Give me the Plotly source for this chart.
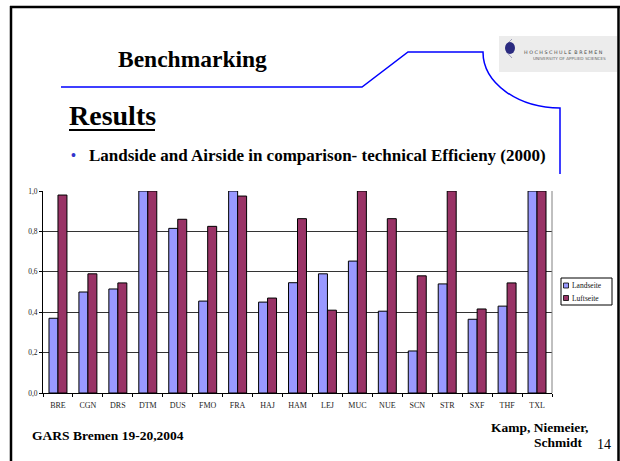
import plotly.graph_objects as go

categories = ["BRE", "CGN", "DRS", "DTM", "DUS", "FMO", "FRA", "HAJ", "HAM",
              "LEJ", "MUC", "NUE", "SCN", "STR", "SXF", "THF", "TXL"]
landseite = [0.37, 0.50, 0.515, 1.0, 0.815, 0.455, 1.0, 0.45, 0.546,
             0.59, 0.653, 0.405, 0.208, 0.54, 0.365, 0.43, 1.0]
luftseite = [0.98, 0.59, 0.545, 1.0, 0.86, 0.825, 0.975, 0.47, 0.863,
             0.41, 1.0, 0.863, 0.58, 1.0, 0.416, 0.545, 1.0]
series_names = ["Landseite", "Luftseite"]
series_colors = ["#9999FF", "#993366"]
y_ticks = [0.0, 0.2, 0.4, 0.6, 0.8, 1.0]

W_FIG, H_FIG = 620, 461
PL, PR, PT, PB = 43, 552, 191, 393
PW, PH = PR - PL, PB - PT


def px(x):
    return (x - PL) / PW


def py(y):
    return (PB - y) / PH


SERIF = "Liberation Serif"

fig = go.Figure()
for name, vals, col in zip(series_names, [landseite, luftseite], series_colors):
    fig.add_bar(x=categories, y=vals, name=name, marker_color=col,
                marker_line_color="#000000", marker_line_width=1,
                showlegend=False, hoverinfo="skip")

fig.update_layout(
    width=W_FIG, height=H_FIG,
    margin=dict(l=PL, r=W_FIG - PR, t=PT, b=H_FIG - PB, pad=0),
    paper_bgcolor="white", plot_bgcolor="white",
    barmode="group", bargap=0.4, bargroupgap=0,
    separators=",.",
    font=dict(family=SERIF, color="#222222"),
    xaxis=dict(type="category", showgrid=False, showline=True, linecolor="#000000",
               linewidth=1, ticks="outside", tickson="boundaries", ticklen=3,
               tickcolor="#000000", tickfont=dict(size=8, family=SERIF, color="#222222"),
               ticklabelstandoff=4, mirror=False),
    yaxis=dict(range=[0, 1], tickvals=y_ticks, tickformat=".1f", showgrid=True,
               gridcolor="#333333", gridwidth=1, showline=True, linecolor="#000000",
               linewidth=1, ticks="outside", ticklen=3, tickcolor="#000000",
               tickfont=dict(size=7.5, family=SERIF, color="#222222"), zeroline=False),
)

shapes = []
# right plot border
shapes.append(dict(type="line", xref="paper", yref="paper", x0=1, x1=1, y0=0, y1=1,
                   line=dict(color="#808080", width=1)))
# slide frame (top, left, right)
frame = "M {} {} L {} {} M {} {} L {} {} M {} {} L {} {}".format(
    px(10), py(7), px(620), py(7),
    px(11), py(6), px(11), py(461),
    px(618.5), py(6), px(618.5), py(461))
shapes.append(dict(type="path", xref="paper", yref="paper", path=frame,
                   line=dict(color="#000000", width=2.5)))
# blue decorative line
p = [(61, 87), (362, 87), (408, 52), (483, 52)]
path = "M {} {}".format(px(p[0][0]), py(p[0][1]))
for (x, y) in p[1:]:
    path += " L {} {}".format(px(x), py(y))
path += " C {} {} {} {} {} {}".format(px(483), py(52 + 0.55 * 56), px(560 - 0.55 * 77),
                                       py(108), px(560), py(108))
path += " L {} {}".format(px(560), py(174))
shapes.append(dict(type="path", xref="paper", yref="paper", path=path,
                   line=dict(color="#0000FF", width=1.5)))
# logo
shapes.append(dict(type="rect", xref="paper", yref="paper", x0=px(499), x1=px(617),
                   y0=py(72), y1=py(36), fillcolor="#ececec", line=dict(width=0)))
shapes.append(dict(type="path", xref="paper", yref="paper",
                   path="M {} {} Q {} {} {} {}".format(px(512), py(39), px(500), py(48),
                                                       px(512), py(58)),
                   line=dict(color="#9a9ab8", width=1)))
shapes.append(dict(type="circle", xref="paper", yref="paper", x0=px(505), x1=px(515),
                   y0=py(54), y1=py(42), fillcolor="#2b2b80", line=dict(width=0)))
# Results underline
shapes.append(dict(type="line", xref="paper", yref="paper", x0=px(69), x1=px(155),
                   y0=py(130), y1=py(130), line=dict(color="#000000", width=2)))
# custom legend
LX0, LX1, LY0, LY1 = 561, 612, 278, 305
shapes.append(dict(type="rect", xref="paper", yref="paper", x0=px(LX0), x1=px(LX1),
                   y0=py(LY1), y1=py(LY0), line=dict(color="#000000", width=1),
                   fillcolor="white"))
ann = []
for i, (name, col) in enumerate(zip(series_names, series_colors)):
    cy = 285.5 + i * 12.5
    shapes.append(dict(type="rect", xref="paper", yref="paper", x0=px(563.5), x1=px(568.5),
                       y0=py(cy + 2.5), y1=py(cy - 2.5), fillcolor=col,
                       line=dict(color="#000000", width=0.8)))
    ann.append(dict(text=name, x=px(570), y=py(cy), xanchor="left", yanchor="middle",
                    font=dict(size=7.5, family=SERIF, color="#111111")))

fig.update_layout(shapes=shapes)


def text(t, x, y, size, xanchor="left", bold=True, color="#000000", family=SERIF):
    s = "<b>{}</b>".format(t) if bold else t
    ann.append(dict(text=s, x=px(x), y=py(y), xanchor=xanchor, yanchor="middle",
                    font=dict(size=size, family=family, color=color)))


text("Benchmarking", 116, 59, 23.5)
text("Results", 67, 115, 28)
text("•", 69, 155, 14, color="#3333cc")
text("Landside and Airside in comparison- technical Efficieny (2000)", 87, 155, 17)
text("GARS Bremen 19-20,2004", 30, 435, 13.5)
text("Kamp, Niemeier,", 590, 427, 13.5, xanchor="right")
text("Schmidt", 585, 442, 13.5, xanchor="right")
text("14", 613, 444, 14, xanchor="right", bold=False)
text("H O C H S C H U L E  B R E M E N", 522, 52, 4.8, bold=False, color="#444444",
     family="DejaVu Sans")
text("UNIVERSITY OF APPLIED SCIENCES", 531, 58, 4.2, bold=False, color="#666666",
     family="DejaVu Sans")

for a in ann:
    a.update(xref="paper", yref="paper", showarrow=False)
fig.update_layout(annotations=ann)

fig.write_html("out.html", config={"displayModeBar": False},
               post_script="document.body.style.margin='0';document.body.style.overflow='hidden';")
